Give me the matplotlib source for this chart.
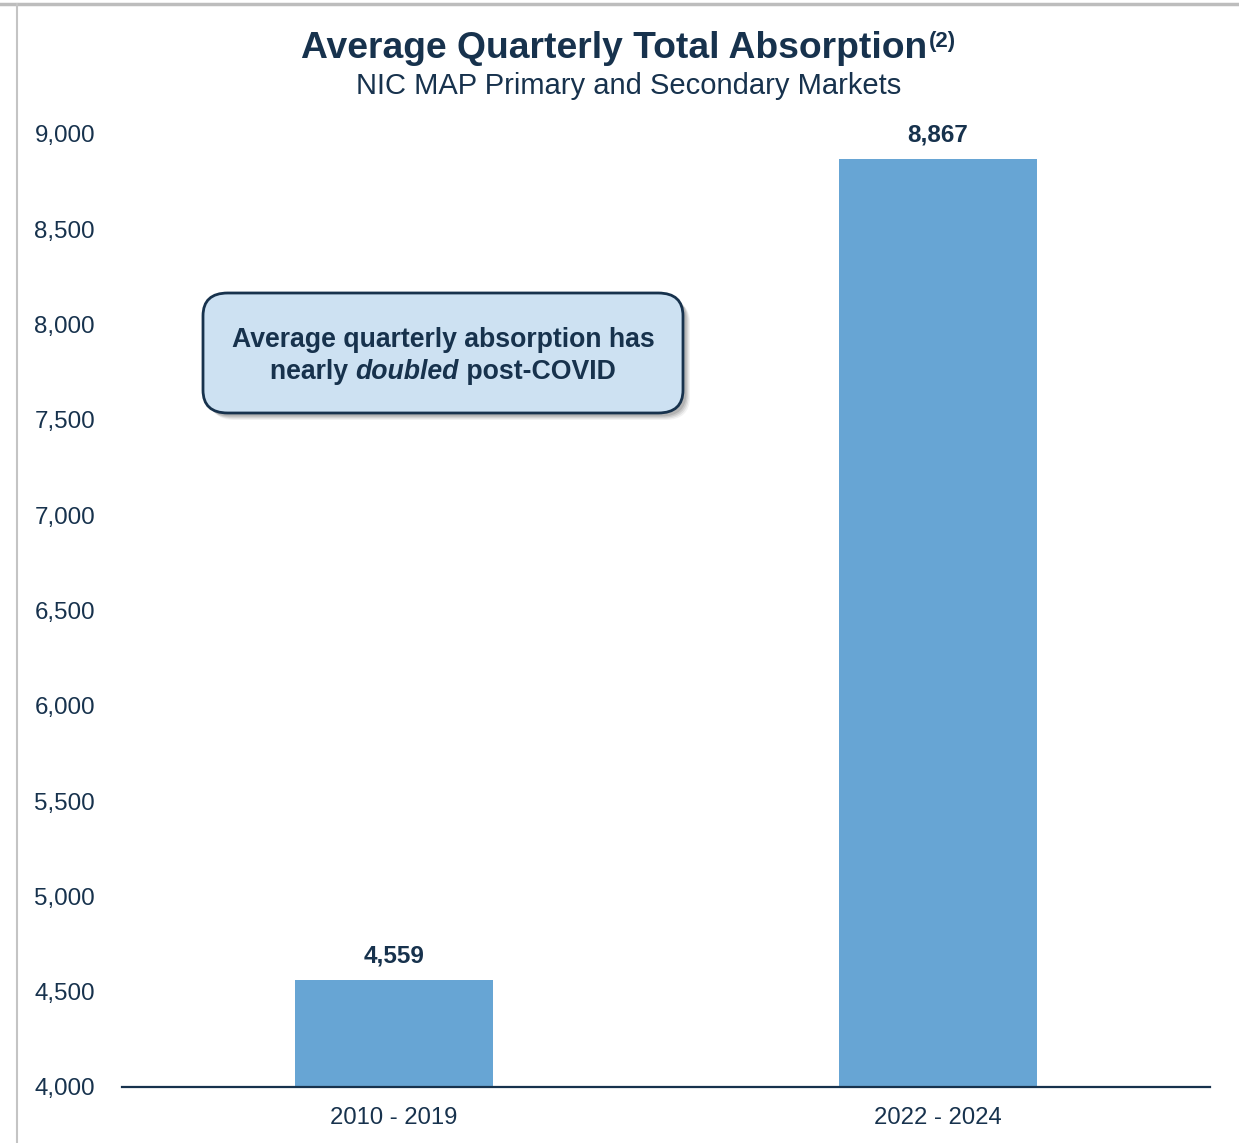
import matplotlib.pyplot as plt
from matplotlib.patches import FancyBboxPatch
from matplotlib.lines import Line2D
from matplotlib.ticker import FuncFormatter

periods = ["2010 - 2019", "2022 - 2024"]
absorption = [4559, 8867]
yticks = [4000, 4500, 5000, 5500, 6000, 6500, 7000, 7500, 8000, 8500, 9000]

navy = "#17324d"
bar_color = "#67a5d4"

plt.rcParams["font.family"] = ["Liberation Sans", "DejaVu Sans"]

fig = plt.figure(figsize=(12.39, 11.43), dpi=100)
ax = fig.add_axes([0.0985, 0.049, 0.878, 0.8338])
W, H = 1239, 1143

x = list(range(len(periods)))
bars = ax.bar(x, absorption, width=0.364, color=bar_color, zorder=2)
ax.set_xlim(-0.5, 1.5)
ax.set_ylim(4000, 9000)
ax.set_yticks(yticks)
ax.yaxis.set_major_formatter(FuncFormatter(lambda v, p: f"{v:,.0f}"))
ax.set_xticks(x)
ax.set_xticklabels(periods)
ax.tick_params(axis="y", length=0, pad=19.5, labelsize=17.4, labelcolor=navy)
ax.tick_params(axis="x", length=0, pad=14.5, labelsize=17.2, labelcolor=navy)
for side in ["top", "right", "left"]:
    ax.spines[side].set_visible(False)
ax.spines["bottom"].set_color(navy)
ax.spines["bottom"].set_linewidth(1.6)

for xi, v in zip(x, absorption):
    ax.annotate(f"{v:,}", (xi, v), xytext=(0, 9.5), textcoords="offset points",
                ha="center", va="bottom", fontsize=17.5, fontweight="bold", color=navy)

fig.canvas.draw()
renderer = fig.canvas.get_renderer()

# title with superscript note marker
title = fig.text(0.496, 1 - 48.5 / H, "Average Quarterly Total Absorption", ha="center",
                 va="center", fontsize=26.8, fontweight="bold", color=navy)
tb = title.get_window_extent(renderer)
fig.text(tb.x1 / W + 0.001, 1 - 42 / H, "(2)", ha="left", va="center", fontsize=16,
         fontweight="bold", color=navy)
fig.text(0.507, 1 - 86 / H, "NIC MAP Primary and Secondary Markets", ha="center",
         va="center", fontsize=21, color=navy)

# callout box with soft shadow
bx0, by0, bw, bh = 203, 293, 480, 120
def fbox(x0, y0):
    return (x0 / W, 1 - (y0 + bh) / H)
for i, a in enumerate([0.05, 0.07, 0.09, 0.11]):
    off = 7 - i * 1.2
    sx, sy = fbox(bx0 + off, by0 + off)
    fig.patches.append(FancyBboxPatch((sx, sy), bw / W, bh / H,
                                      boxstyle="round,pad=0,rounding_size=0.02",
                                      transform=fig.transFigure, facecolor="black",
                                      edgecolor="none", alpha=a))
px, py = fbox(bx0, by0)
fig.patches.append(FancyBboxPatch((px, py), bw / W, bh / H,
                                  boxstyle="round,pad=0,rounding_size=0.02",
                                  transform=fig.transFigure, facecolor="#cde1f2",
                                  edgecolor=navy, linewidth=2))

cx = (bx0 + bw / 2) / W
fig.text(cx, 1 - 340 / H, "Average quarterly absorption has", ha="center",
         va="center", fontsize=19.2, fontweight="bold", color=navy)

# second line mixes bold and bold italic
parts = [("nearly ", "normal"), ("doubled", "italic"), (" post-COVID", "normal")]
y2 = 1 - 372 / H
texts = []
for s, style in parts:
    t = fig.text(0, y2, s, ha="left", va="center", fontsize=19.2,
                 fontweight="bold", style=style, color=navy)
    texts.append(t)
widths = [t.get_window_extent(renderer).width for t in texts]
xpos = cx * W - sum(widths) / 2
for t, w in zip(texts, widths):
    t.set_x(xpos / W)
    xpos += w

# frame lines along the top and left edge
fig.add_artist(Line2D([0, 1], [1 - 4 / H, 1 - 4 / H], transform=fig.transFigure,
                      color="#bdbdbd", linewidth=2.5))
fig.add_artist(Line2D([17 / W, 17 / W], [0, 1 - 4 / H], transform=fig.transFigure,
                      color="#c4c4c4", linewidth=1.5))

fig.savefig("out.png", dpi=100)
